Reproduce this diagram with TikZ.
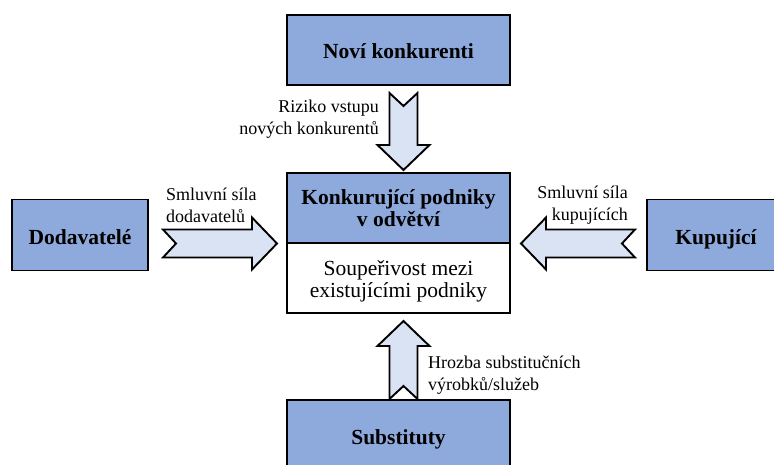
\documentclass[tikz,border=0pt]{standalone}
\usepackage{fontspec}
\setmainfont{Liberation Serif}
\usetikzlibrary{positioning,calc}

\definecolor{forceblue}{RGB}{142,169,219}
\definecolor{arrowfill}{RGB}{218,227,243}

\begin{document}
\begin{tikzpicture}[x=1pt, y=-1pt,
  panel/.style={rectangle, draw, line width=1.9pt, outer sep=0pt, align=center},
  force/.style={panel, fill=forceblue, text height=18pt, text depth=0pt,
    font=\fontsize{21.5}{22}\selectfont\bfseries},
  lbl/.style={inner sep=0pt, font=\fontsize{18}{22}\selectfont},
  pics/fatarrow/.style={code={
    \draw[line width=1.9pt, fill=arrowfill] (0,-14) -- (#1-25,-14) -- (#1-25,-26) -- (#1,0)
      -- (#1-25,26) -- (#1-25,14) -- (0,14) -- (13,0) -- cycle;
  }}]
  \useasboundingbox (0,0) rectangle (774,465);

  \node[panel, fill=forceblue, font=\fontsize{21.5}{22}\selectfont\bfseries,
    minimum width=223pt, minimum height=70pt] (konk) at (398.5,208) {Konkurující podniky\\v odvětví};
  \node[panel, fill=white, font=\fontsize{21.5}{22}\selectfont, minimum width=223pt, minimum height=70pt,
    below=0pt of konk] (soup) {\rule{0pt}{22pt}Soupeřivost mezi\\existujícími podniky};
  \node[force, minimum width=223pt, minimum height=70pt, above=88pt of konk] (novi) {Noví konkurenti};
  \node[force, minimum width=223pt, minimum height=70pt, below=87pt of soup] (subst) {Substituty};
  \node[force, minimum width=136pt, minimum height=71pt] (dodav) at (80,235) {Dodavatelé};
  \node[force, minimum width=138pt, minimum height=71pt] (kup) at (716,235) {Kupující};

  % sily
  \pic[rotate=-90] at ($(novi.south)+(5,8)$) {fatarrow=77};
  \pic[rotate=90] at ($(subst.north)+(5,-1)$) {fatarrow=78};
  \pic at ($(dodav.east)+(15,8.5)$) {fatarrow=114};
  \pic[rotate=180] at ($(kup.west)+(-12,8.5)$) {fatarrow=114};

  \node[lbl, anchor=east, align=right] (riziko) at (379,119) {Riziko vstupu\\nových konkurentů};
  \node[lbl, anchor=west, align=left] (silad) at (166,205) {Smluvní síla\\dodavatelů};
  \node[lbl, anchor=east, align=right] (silak) at (628,205) {Smluvní síla\\kupujících};
  \node[lbl, anchor=west, align=left] (hrozba) at (428,375) {Hrozba substitučních\\výrobků/služeb};
\end{tikzpicture}
\end{document}
